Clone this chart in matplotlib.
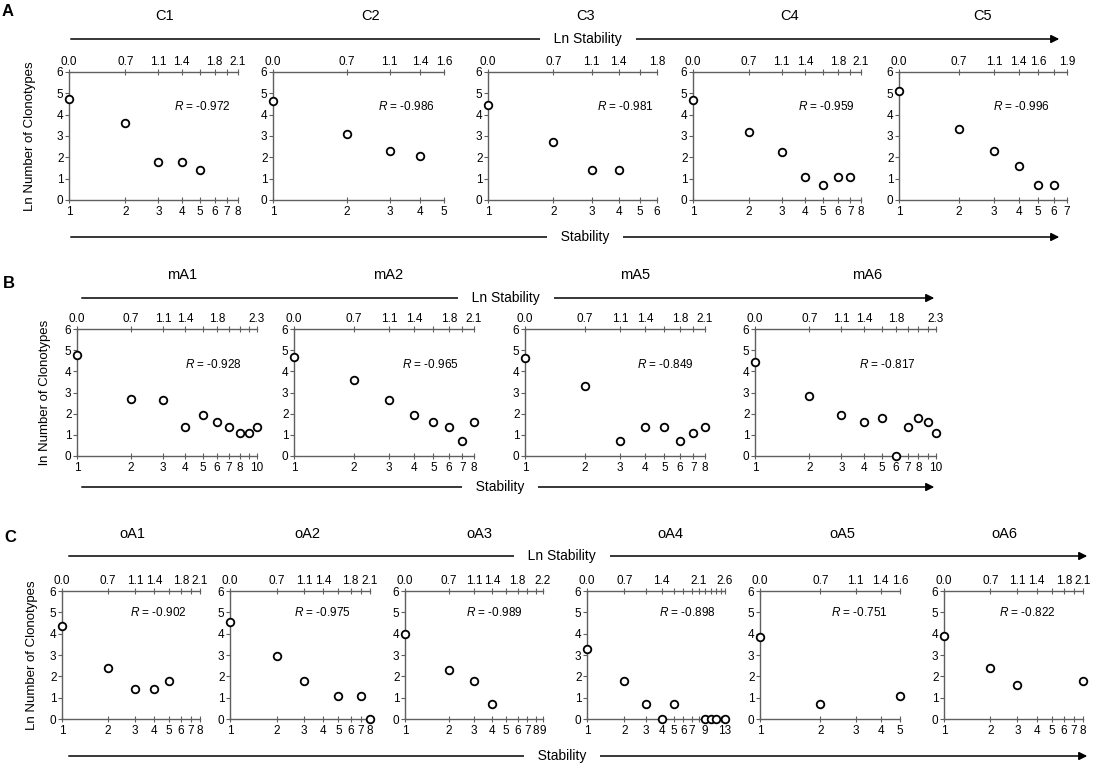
import numpy as np
import matplotlib.pyplot as plt
from matplotlib.patches import FancyArrowPatch
from matplotlib.ticker import NullLocator

plt.rcParams['font.family'] = ['Liberation Sans', 'DejaVu Sans']
plt.rcParams['mathtext.fontset'] = 'custom'
plt.rcParams['mathtext.it'] = 'Liberation Sans:italic'
plt.rcParams['mathtext.rm'] = 'Liberation Sans'

# ---- data (stability, ln number of clonotypes) ----
C1_x = [1, 2, 3, 4, 5]
C1_y = [4.75, 3.63, 1.79, 1.79, 1.39]
C2_x = [1, 2, 3, 4]
C2_y = [4.62, 3.09, 2.30, 2.08]
C3_x = [1, 2, 3, 4]
C3_y = [4.44, 2.71, 1.39, 1.39]
C4_x = [1, 2, 3, 4, 5, 6, 7]
C4_y = [4.70, 3.18, 2.25, 1.10, 0.69, 1.10, 1.10]
C5_x = [1, 2, 3, 4, 5, 6]
C5_y = [5.12, 3.33, 2.30, 1.61, 0.69, 0.69]

mA1_x = [1, 2, 3, 4, 5, 6, 7, 8, 9, 10]
mA1_y = [4.79, 2.71, 2.64, 1.39, 1.95, 1.61, 1.39, 1.10, 1.10, 1.39]
mA2_x = [1, 2, 3, 4, 5, 6, 7, 8]
mA2_y = [4.70, 3.58, 2.64, 1.95, 1.61, 1.39, 0.69, 1.61]
mA5_x = [1, 2, 3, 4, 5, 6, 7, 8]
mA5_y = [4.62, 3.30, 0.69, 1.39, 1.39, 0.69, 1.10, 1.39]
mA6_x = [1, 2, 3, 4, 5, 6, 7, 8, 9, 10]
mA6_y = [4.42, 2.83, 1.95, 1.61, 1.79, 0.0, 1.39, 1.79, 1.61, 1.10]

oA1_x = [1, 2, 3, 4, 5]
oA1_y = [4.38, 2.40, 1.39, 1.39, 1.79]
oA2_x = [1, 2, 3, 5, 7, 8]
oA2_y = [4.55, 2.94, 1.79, 1.10, 1.10, 0.0]
oA3_x = [1, 2, 3, 4]
oA3_y = [4.00, 2.30, 1.79, 0.69]
oA4_x = [1, 2, 3, 4, 5, 9, 10, 11, 13]
oA4_y = [3.30, 1.79, 0.69, 0.0, 0.69, 0.0, 0.0, 0.0, 0.0]
oA5_x = [1, 2, 5]
oA5_y = [3.85, 0.69, 1.10]
oA6_x = [1, 2, 3, 8]
oA6_y = [3.91, 2.40, 1.61, 1.79]

names_A = ['C1', 'C2', 'C3', 'C4', 'C5']
names_B = ['mA1', 'mA2', 'mA5', 'mA6']
names_C = ['oA1', 'oA2', 'oA3', 'oA4', 'oA5', 'oA6']
r_A = [-0.972, -0.986, -0.981, -0.959, -0.996]
r_B = [-0.928, -0.965, -0.849, -0.817]
r_C = [-0.902, -0.975, -0.989, -0.898, -0.751, -0.822]
xmax_A = [8, 5, 6, 8, 7]
xmax_B = [10, 8, 8, 10]
xmax_C = [8, 8, 9, 13, 5, 8]
# which stability values get a label on the top (ln) axis / bottom axis
toplab_A = [[1, 2, 3, 4, 6, 8], [1, 2, 3, 4, 5], [1, 2, 3, 4, 6],
            [1, 2, 3, 4, 6, 8], [1, 2, 3, 4, 5, 7]]
toplab_B = [[1, 2, 3, 4, 6, 10], [1, 2, 3, 4, 6, 8], [1, 2, 3, 4, 6, 8],
            [1, 2, 3, 4, 6, 10]]
toplab_C = [[1, 2, 3, 4, 6, 8], [1, 2, 3, 4, 6, 8], [1, 2, 3, 4, 6, 9],
            [1, 2, 4, 8, 13], [1, 2, 3, 4, 5], [1, 2, 3, 4, 6, 8]]
botlab_B = [[1, 2, 3, 4, 5, 6, 7, 8, 10], None, None, [1, 2, 3, 4, 5, 6, 7, 8, 10]]
botlab_C = [None, None, None, [1, 2, 3, 4, 5, 6, 7, 9, 13], None, None]

xs_A = [C1_x, C2_x, C3_x, C4_x, C5_x]
ys_A = [C1_y, C2_y, C3_y, C4_y, C5_y]
xs_B = [mA1_x, mA2_x, mA5_x, mA6_x]
ys_B = [mA1_y, mA2_y, mA5_y, mA6_y]
xs_C = [oA1_x, oA2_x, oA3_x, oA4_x, oA5_x, oA6_x]
ys_C = [oA1_y, oA2_y, oA3_y, oA4_y, oA5_y, oA6_y]

# ---- layout (pixels) ----
W, H = 1093, 765
fig = plt.figure(figsize=(W / 100, H / 100), dpi=100)
GREY = '#5f5f5f'


def fx(x):
    return x / W


def fy(y):
    return 1 - y / H


def panel(left, right, top, bottom, xs, ys, xmax, r, toplab, botlab, rpos):
    ax = fig.add_axes([fx(left), fy(bottom), fx(right - left), (bottom - top) / H])
    ax.set_xscale('log')
    ax.set_xlim(1, xmax)
    ax.set_ylim(0, 6)
    ax.scatter(xs, ys, s=30, facecolor='white', edgecolor='black',
               linewidth=1.3, zorder=5, clip_on=False)
    ticks = np.arange(1, xmax + 1)
    if botlab is None:
        botlab = list(ticks)
    ax.set_xticks(ticks, labels=[str(k) if k in botlab else '' for k in ticks])
    ax.xaxis.set_minor_locator(NullLocator())
    ax.set_yticks(range(7))
    for s in ['right', 'top']:
        ax.spines[s].set_visible(False)
    for s in ['left', 'bottom']:
        ax.spines[s].set_color(GREY)
        ax.spines[s].set_linewidth(1.0)
    ax.tick_params(axis='x', direction='inout', length=4, color=GREY, labelsize=8.5, pad=2)
    ax.tick_params(axis='y', direction='out', length=3, color=GREY, labelsize=8.5, pad=1)
    sec = ax.secondary_xaxis('top')
    sec.set_xticks(ticks, labels=[f'{np.log(k):.1f}' if k in toplab else '' for k in ticks])
    sec.xaxis.set_minor_locator(NullLocator())
    sec.spines['top'].set_color(GREY)
    sec.spines['top'].set_linewidth(1.0)
    sec.tick_params(axis='x', direction='inout', length=4, color=GREY, labelsize=8.5, pad=1)
    ax.text(rpos[0], rpos[1], f'$R$ = {r:.3f}', transform=ax.transAxes,
            ha='center', va='center', fontsize=8.5)
    return ax


def arrow(y, x0, x1, label, xt):
    fig.add_artist(FancyArrowPatch((fx(x0), fy(y)), (fx(x1), fy(y)),
                                   transform=fig.transFigure, arrowstyle='-|>',
                                   mutation_scale=12, lw=1.1, color='black', zorder=1))
    fig.text(fx(xt), fy(y), '   ' + label + '   ', ha='center', va='center',
             fontsize=10, zorder=3,
             bbox=dict(boxstyle='square,pad=0.15', fc='white', ec='none'))


# row A
lefts_A = [69, 273, 488, 693, 899]
rights_A = [238, 444, 657, 861, 1067]
title_x_A = [165, 371, 586, 790, 983]
rx_A = [0.79, 0.78, 0.81, 0.79, 0.73]
for i in range(5):
    panel(lefts_A[i], rights_A[i], 72, 200, xs_A[i], ys_A[i], xmax_A[i], r_A[i],
          toplab_A[i], None, (rx_A[i], 0.73))
    fig.text(fx(title_x_A[i]), fy(16), names_A[i], ha='center', va='center', fontsize=10.5)
arrow(39, 68, 1062, 'Ln Stability', 588)
arrow(237, 68, 1062, 'Stability', 585)
fig.text(fx(8), fy(12), 'A', ha='center', va='center', fontsize=12, fontweight='bold')
fig.text(fx(30), fy(136), 'Ln Number of Clonotypes', rotation=90,
         ha='center', va='center', fontsize=9.5)

# row B
lefts_B = [77, 294, 525, 755]
rights_B = [257, 474, 705, 936]
title_x_B = [182, 388, 635, 867]
rx_B = [0.76, 0.76, 0.78, 0.73]
for i in range(4):
    panel(lefts_B[i], rights_B[i], 329, 456, xs_B[i], ys_B[i], xmax_B[i], r_B[i],
          toplab_B[i], botlab_B[i], (rx_B[i], 0.72))
    fig.text(fx(title_x_B[i]), fy(275), names_B[i], ha='center', va='center', fontsize=10.5)
arrow(298, 79, 937, 'Ln Stability', 506)
arrow(487, 79, 937, 'Stability', 500)
fig.text(fx(9), fy(283), 'B', ha='center', va='center', fontsize=12, fontweight='bold')
fig.text(fx(45), fy(392), 'ln Number of Clonotypes', rotation=90,
         ha='center', va='center', fontsize=9.5)

# row C
lefts_C = [62, 230, 405, 587, 760, 944]
rights_C = [200, 370, 543, 725, 900, 1083]
title_x_C = [132, 307, 479, 670, 842, 1004]
rx_C = [0.70, 0.66, 0.65, 0.73, 0.71, 0.60]
for i in range(6):
    panel(lefts_C[i], rights_C[i], 591, 719, xs_C[i], ys_C[i], xmax_C[i], r_C[i],
          toplab_C[i], botlab_C[i], (rx_C[i], 0.83))
    fig.text(fx(title_x_C[i]), fy(534), names_C[i], ha='center', va='center', fontsize=10.5)
arrow(556, 66, 1090, 'Ln Stability', 562)
arrow(756, 66, 1090, 'Stability', 562)
fig.text(fx(10), fy(538), 'C', ha='center', va='center', fontsize=12, fontweight='bold')
fig.text(fx(32), fy(655), 'Ln Number of Clonotypes', rotation=90,
         ha='center', va='center', fontsize=9.5)

fig.savefig('out.png', dpi=100)
